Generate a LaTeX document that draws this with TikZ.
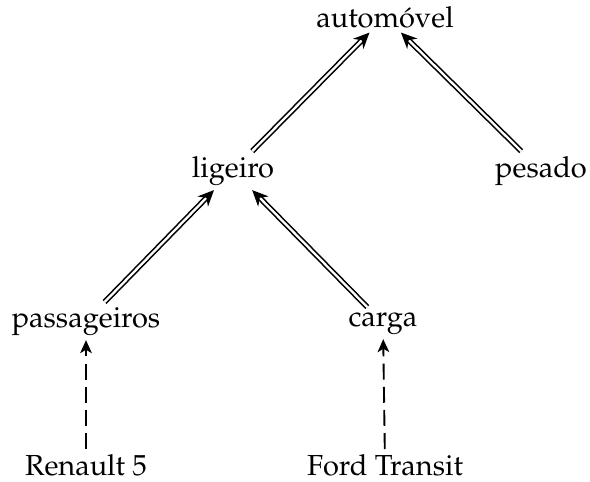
\documentclass[tikz,border=0pt]{standalone}
\usepackage[T1]{fontenc}
\usepackage{mathpazo}
\usetikzlibrary{arrows.meta}

\begin{document}
\begin{tikzpicture}[x=0.345pt,y=-0.345pt,
  cls/.style={anchor=base,inner sep=1.5pt},
  isa/.style={line width=0.55pt,double,double distance=0.8pt,-{Stealth[length=5.5pt,width=5pt]}},
  inst/.style={line width=0.65pt,dash pattern=on 5.5pt off 2.5pt,-{Stealth[length=4.5pt,width=4pt,inset=1.2pt]}}]
\useasboundingbox (0,0) rectangle (590,481);
\node[cls] (automovel) at (385,27) {autom\'ovel};
\node[cls] (ligeiro) at (233,177) {ligeiro};
\node[cls] (pesado) at (541,177) {pesado};
\node[cls] (passageiros) at (86,327) {passageiros};
\node[cls] (carga) at (383,326) {carga};
\node[cls] (renault) at (86,475) {Renault 5};
\node[cls] (ford) at (385,475) {Ford Transit};
\draw[isa] (ligeiro) -- (automovel);
\draw[isa] (pesado) -- (automovel);
\draw[isa] (passageiros) -- (ligeiro);
\draw[isa] (carga) -- (ligeiro);
\draw[inst] (renault) -- (passageiros);
\draw[inst] (ford) -- (carga);
\end{tikzpicture}
\end{document}
